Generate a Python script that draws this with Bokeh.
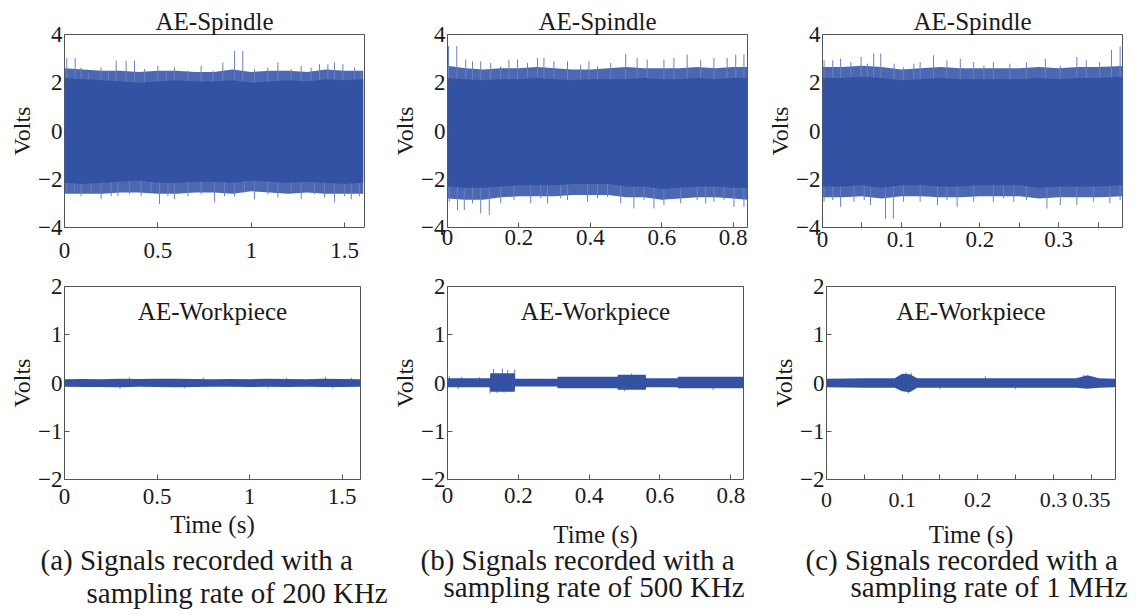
from bokeh.plotting import figure
from bokeh.layouts import row, column
from bokeh.models import Range1d, FixedTicker, Title, Label
from bokeh.embed import file_html
from bokeh.resources import INLINE

FONT = "Liberation Serif"
TXT = "#1a1a1a"
BLUE = "#3452a4"
FRINGE = "#4d68b2"
SPK = "#6680c2"
BOX = "#555555"

# ---------------- Panel (a) top: AE-Spindle, 200 kHz ----------------
a1_env_t = [0, 0.1, 0.2, 0.3, 0.4, 0.5, 0.6, 0.7, 0.8, 0.9, 1.0, 1.1, 1.2, 1.3, 1.4, 1.5, 1.6]
a1_env_hi = [2.2, 2.15, 2.1, 2.05, 2.0, 2.05, 2.1, 2.05, 2.05, 2.1, 2.0, 2.05, 2.1, 2.05, 2.15, 2.1, 2.15]
a1_env_lo = [-2.15, -2.2, -2.15, -2.1, -2.05, -2.15, -2.15, -2.1, -2.1, -2.15, -2.05, -2.1, -2.15, -2.1, -2.15, -2.2, -2.15]
a1_fr_hi = [2.6, 2.55, 2.5, 2.5, 2.45, 2.5, 2.5, 2.45, 2.45, 2.55, 2.45, 2.5, 2.5, 2.45, 2.55, 2.5, 2.5]
a1_fr_lo = [-2.6, -2.6, -2.6, -2.55, -2.55, -2.6, -2.6, -2.55, -2.55, -2.6, -2.5, -2.55, -2.6, -2.55, -2.6, -2.6, -2.6]
a1_up_t = [0.012, 0.057, 0.089, 0.129, 0.196, 0.236, 0.277, 0.330, 0.375, 0.429, 0.5, 0.545, 0.589, 0.661,
           0.732, 0.795, 0.848, 0.911, 0.955, 1.018, 1.089, 1.143, 1.214, 1.268, 1.321, 1.366, 1.411, 1.446,
           1.491, 1.554, 1.589]
a1_up_v = [3.02, 3.02, 2.63, 2.43, 2.63, 2.50, 2.91, 2.91, 2.91, 2.57, 2.70, 2.50, 2.63, 2.50,
           2.70, 2.50, 2.84, 3.32, 3.32, 2.57, 2.63, 2.84, 2.57, 2.70, 2.63, 2.77, 2.77, 2.84,
           2.77, 2.63, 2.50]
a1_dn_t = [0.012, 0.054, 0.089, 0.143, 0.196, 0.25, 0.286, 0.348, 0.411, 0.464, 0.509, 0.554, 0.589, 0.661,
           0.732, 0.804, 0.857, 0.911, 0.964, 1.018, 1.089, 1.143, 1.214, 1.268, 1.339, 1.393, 1.446, 1.5,
           1.536, 1.580]
a1_dn_v = [-2.55, -2.48, -2.70, -2.55, -2.83, -2.70, -2.70, -2.62, -2.70, -2.55, -3.03, -2.70, -2.83, -2.70,
           -2.62, -2.96, -2.70, -2.70, -2.55, -2.83, -2.62, -2.76, -2.55, -2.83, -2.62, -2.76, -2.96, -2.70,
           -2.83, -2.70]

# ---------------- Panel (a) bottom: AE-Workpiece ----------------
a2_env_t = [0, 0.1, 0.2, 0.3, 0.4, 0.5, 0.6, 0.7, 0.8, 0.9, 1.0, 1.1, 1.2, 1.3, 1.4, 1.5, 1.6]
a2_env_hi = [0.08, 0.085, 0.08, 0.09, 0.085, 0.09, 0.09, 0.085, 0.08, 0.085, 0.08, 0.09, 0.085, 0.08, 0.09, 0.085, 0.08]
a2_env_lo = [-0.08, -0.085, -0.085, -0.09, -0.08, -0.085, -0.09, -0.085, -0.08, -0.08, -0.085, -0.08, -0.085, -0.08, -0.085, -0.085, -0.08]
a2_up_t = [0.35, 0.75, 1.2, 1.41, 1.55]
a2_up_v = [0.12, 0.11, 0.11, 0.135, 0.11]
a2_dn_t = [0.3, 0.65, 1.1, 1.45]
a2_dn_v = [-0.12, -0.11, -0.11, -0.11]

# ---------------- Panel (b) top: AE-Spindle, 500 kHz ----------------
b1_env_t = [0, 0.05, 0.1, 0.15, 0.2, 0.25, 0.3, 0.35, 0.4, 0.45, 0.5, 0.55, 0.6, 0.65, 0.7, 0.75, 0.8, 0.84]
b1_env_hi = [2.2, 2.15, 2.1, 2.15, 2.15, 2.2, 2.15, 2.1, 2.15, 2.15, 2.15, 2.2, 2.15, 2.15, 2.2, 2.15, 2.2, 2.2]
b1_env_lo = [-2.3, -2.35, -2.35, -2.3, -2.25, -2.25, -2.25, -2.2, -2.2, -2.2, -2.3, -2.3, -2.4, -2.35, -2.3, -2.3, -2.35, -2.35]
b1_fr_hi = [2.7, 2.6, 2.55, 2.6, 2.6, 2.65, 2.6, 2.55, 2.55, 2.6, 2.65, 2.6, 2.6, 2.6, 2.65, 2.6, 2.65, 2.65]
b1_fr_lo = [-2.8, -2.85, -2.85, -2.75, -2.7, -2.7, -2.7, -2.65, -2.65, -2.65, -2.75, -2.75, -2.85, -2.8, -2.75, -2.75, -2.8, -2.85]
b1_up_t = [0.003, 0.026, 0.051, 0.070, 0.093, 0.121, 0.149, 0.172, 0.196, 0.224, 0.252, 0.270, 0.298, 0.336,
           0.373, 0.396, 0.420, 0.457, 0.499, 0.531, 0.559, 0.606, 0.634, 0.671, 0.709, 0.746, 0.783, 0.807, 0.830]
b1_up_v = [3.52, 3.52, 2.96, 2.89, 2.89, 2.82, 2.68, 2.96, 2.96, 2.82, 3.03, 3.03, 2.89, 2.89,
           2.75, 2.89, 2.68, 2.82, 3.20, 3.03, 2.96, 2.96, 3.03, 3.17, 2.96, 3.03, 3.03, 3.17, 3.17]
b1_dn_t = [0.005, 0.028, 0.047, 0.070, 0.093, 0.117, 0.149, 0.186, 0.233, 0.261, 0.280, 0.317, 0.336, 0.392,
           0.420, 0.448, 0.485, 0.522, 0.550, 0.578, 0.606, 0.653, 0.699, 0.723, 0.746, 0.774, 0.802, 0.830]
b1_dn_v = [-2.93, -3.28, -3.28, -3.0, -3.42, -3.49, -3.0, -2.86, -3.0, -2.79, -3.0, -2.79, -2.86, -2.93,
           -2.79, -2.73, -3.0, -3.21, -2.86, -3.21, -3.07, -3.0, -2.86, -3.0, -2.93, -2.86, -3.14, -3.14]

# ---------------- Panel (b) bottom: AE-Workpiece ----------------
b2_env_t = [0, 0.05, 0.1, 0.12, 0.121, 0.19, 0.191, 0.25, 0.31, 0.311, 0.40, 0.48, 0.481, 0.56, 0.561, 0.65, 0.651, 0.75, 0.836]
b2_env_hi = [0.1, 0.1, 0.1, 0.1, 0.2, 0.2, 0.09, 0.09, 0.09, 0.13, 0.13, 0.13, 0.17, 0.17, 0.1, 0.1, 0.13, 0.13, 0.13]
b2_env_lo = [-0.09, -0.09, -0.09, -0.09, -0.18, -0.18, -0.075, -0.075, -0.075, -0.11, -0.11, -0.11, -0.14, -0.14, -0.09, -0.09, -0.11, -0.11, -0.11]
b2_up_t = [0.005, 0.04, 0.09, 0.13, 0.155, 0.17, 0.19, 0.52]
b2_up_v = [0.14, 0.13, 0.12, 0.29, 0.30, 0.27, 0.28, 0.2]
b2_dn_t = [0.03, 0.12, 0.14, 0.16, 0.5, 0.75]
b2_dn_v = [-0.13, -0.22, -0.21, -0.2, -0.17, -0.15]

# ---------------- Panel (c) top: AE-Spindle, 1 MHz ----------------
c1_env_t = [0, 0.025, 0.05, 0.075, 0.1, 0.125, 0.15, 0.175, 0.2, 0.225, 0.25, 0.275, 0.3, 0.325, 0.35, 0.382]
c1_env_hi = [2.2, 2.2, 2.25, 2.2, 2.1, 2.15, 2.2, 2.15, 2.15, 2.15, 2.15, 2.2, 2.15, 2.2, 2.2, 2.25]
c1_env_lo = [-2.3, -2.3, -2.25, -2.35, -2.25, -2.25, -2.3, -2.3, -2.25, -2.25, -2.25, -2.35, -2.3, -2.3, -2.3, -2.25]
c1_fr_hi = [2.65, 2.65, 2.7, 2.65, 2.55, 2.6, 2.65, 2.6, 2.6, 2.6, 2.6, 2.65, 2.6, 2.65, 2.65, 2.7]
c1_fr_lo = [-2.75, -2.75, -2.7, -2.8, -2.7, -2.7, -2.75, -2.75, -2.7, -2.7, -2.7, -2.8, -2.75, -2.75, -2.75, -2.7]
c1_up_t = [0.002, 0.013, 0.023, 0.036, 0.049, 0.057, 0.065, 0.074, 0.091, 0.103, 0.116, 0.124, 0.141, 0.158,
           0.175, 0.192, 0.205, 0.217, 0.238, 0.259, 0.283, 0.302, 0.323, 0.335, 0.352, 0.367, 0.378]
c1_up_v = [2.93, 2.93, 3.0, 2.86, 3.07, 2.79, 3.21, 3.21, 2.79, 2.64, 2.79, 2.86, 3.14, 2.93,
           3.0, 2.86, 2.71, 2.86, 2.79, 2.86, 3.0, 2.71, 3.07, 2.93, 2.86, 3.36, 3.5]
c1_dn_t = [0.002, 0.013, 0.023, 0.040, 0.053, 0.061, 0.080, 0.090, 0.103, 0.124, 0.146, 0.158, 0.171, 0.192,
           0.217, 0.230, 0.243, 0.259, 0.285, 0.302, 0.323, 0.344, 0.365, 0.378]
c1_dn_v = [-2.93, -2.86, -3.14, -2.93, -2.86, -3.07, -3.64, -3.64, -2.93, -2.93, -3.07, -2.86, -3.14, -2.93,
           -2.93, -2.79, -2.93, -2.86, -3.21, -3.07, -3.07, -2.93, -3.0, -2.86]

# ---------------- Panel (c) bottom: AE-Workpiece ----------------
c2_env_t = [0, 0.05, 0.09, 0.1, 0.11, 0.12, 0.2, 0.3, 0.33, 0.345, 0.36, 0.382]
c2_env_hi = [0.09, 0.1, 0.1, 0.19, 0.18, 0.1, 0.1, 0.1, 0.1, 0.16, 0.1, 0.09]
c2_env_lo = [-0.09, -0.1, -0.1, -0.17, -0.19, -0.1, -0.1, -0.1, -0.1, -0.12, -0.1, -0.09]
c2_up_t = [0.105, 0.112, 0.21, 0.34]
c2_up_v = [0.22, 0.21, 0.14, 0.17]
c2_dn_t = [0.108, 0.15, 0.25]
c2_dn_v = [-0.22, -0.13, -0.13]

# ---------------- Axis ticks and texts ----------------
a_xticks = [0, 0.5, 1, 1.5]
b_xticks = [0, 0.2, 0.4, 0.6, 0.8]
c_xticks = [0, 0.05, 0.1, 0.15, 0.2, 0.25, 0.3, 0.35]
c1_xlabels = {0.05: "", 0.15: "", 0.25: "", 0.35: ""}
c2_xlabels = {0.05: "", 0.15: "", 0.25: ""}
top_yticks = [-4, -2, 0, 2, 4]
bot_yticks = [-2, -1, 0, 1, 2]
captions = [("(a) Signals recorded with a", "sampling rate of 200 KHz"),
            ("(b) Signals recorded with a", "sampling rate of 500 KHz"),
            ("(c) Signals recorded with a", "sampling rate of 1 MHz")]


def style_axis(ax, ticks, overrides=None, size="23px"):
    ax.ticker = FixedTicker(ticks=ticks, minor_ticks=[])
    ax.axis_line_color = None
    ax.major_tick_in = 5
    ax.major_tick_out = 0
    ax.major_tick_line_color = BOX
    ax.minor_tick_line_color = None
    ax.major_label_text_font = FONT
    ax.major_label_text_font_size = size
    ax.major_label_text_color = TXT
    if overrides:
        ax.major_label_overrides = overrides


def make_panel(w, h, left, right, top, bottom, xmax, ylim, xticks, yticks,
               env_t, env_hi, env_lo, up_t, up_v, dn_t, dn_v, fr_hi=None, fr_lo=None,
               xover=None, xsize="23px", title=None, inner=None, caption=None, cap_off=(0, 0),
               xstand=6, lstand=4, cstand=(2, 2)):
    p = figure(width=w, height=h, min_border_left=left, min_border_right=right,
               min_border_top=top, min_border_bottom=bottom,
               x_range=Range1d(0, xmax), y_range=Range1d(*ylim),
               output_backend="svg", toolbar_location=None, tools="")
    p.xgrid.visible = False
    p.ygrid.visible = False
    p.outline_line_color = BOX
    p.outline_line_width = 1
    p.background_fill_color = "white"
    p.border_fill_color = "white"

    if fr_hi is not None:
        p.varea(x=env_t, y1=fr_lo, y2=fr_hi, fill_color=FRINGE)
    p.segment(x0=up_t, y0=[0] * len(up_t), x1=up_t, y1=up_v, line_color=SPK, line_width=1)
    p.segment(x0=dn_t, y0=[0] * len(dn_t), x1=dn_t, y1=dn_v, line_color=SPK, line_width=1)
    p.varea(x=env_t, y1=env_lo, y2=env_hi, fill_color=BLUE)

    xa = p.xaxis[0]
    ya = p.yaxis[0]
    style_axis(xa, xticks, xover, xsize)
    xa.major_label_standoff = xstand
    style_axis(ya, yticks)
    ya.major_label_standoff = 2
    ya.axis_label = "Volts"
    ya.axis_label_text_font = FONT
    ya.axis_label_text_font_size = "24px"
    ya.axis_label_text_font_style = "normal"
    ya.axis_label_text_color = TXT
    ya.axis_label_standoff = 0

    p.title.standoff = 0
    if title:
        p.title.text = title
        p.title.align = "center"
        p.title.text_font = FONT
        p.title.text_font_size = "25px"
        p.title.text_font_style = "normal"
        p.title.text_color = TXT
    if inner:
        p.add_layout(Label(x=xmax / 2, y=1.48, text=inner, text_align="center",
                           text_baseline="middle", text_font=FONT, text_font_size="25px",
                           text_color=TXT))
    if caption:
        xa.axis_label = "Time (s)"
        xa.axis_label_text_font = FONT
        xa.axis_label_text_font_size = "25px"
        xa.axis_label_text_font_style = "normal"
        xa.axis_label_text_color = TXT
        xa.axis_label_standoff = lstand
        for txt, off, st in zip(caption, cap_off, cstand):
            p.add_layout(Title(text=txt, align="left", offset=off, standoff=st,
                               text_font=FONT, text_font_size="29px",
                               text_font_style="normal", text_color=TXT), "below")
    return p


# layout: top row frames y 34..227, bottom row frames y 286..479
H1 = 274
H2 = 616 - H1
T1, F1 = 34, 193
T2, F2 = 12, 193

pa1 = make_panel(389, H1, 64, 25, T1, H1 - T1 - F1, 1.607, (-4, 4), a_xticks, top_yticks,
                 a1_env_t, a1_env_hi, a1_env_lo, a1_up_t, a1_up_v, a1_dn_t, a1_dn_v,
                 fr_hi=a1_fr_hi, fr_lo=a1_fr_lo, title="AE-Spindle", xstand=15)
pb1 = make_panel(375, H1, 58, 17, T1, H1 - T1 - F1, 0.84, (-4, 4), b_xticks, top_yticks,
                 b1_env_t, b1_env_hi, b1_env_lo, b1_up_t, b1_up_v, b1_dn_t, b1_dn_v,
                 fr_hi=b1_fr_hi, fr_lo=b1_fr_lo, title="AE-Spindle", xstand=2)
pc1 = make_panel(376, H1, 58, 18, T1, H1 - T1 - F1, 0.381, (-4, 4), c_xticks, top_yticks,
                 c1_env_t, c1_env_hi, c1_env_lo, c1_up_t, c1_up_v, c1_dn_t, c1_dn_v,
                 fr_hi=c1_fr_hi, fr_lo=c1_fr_lo, xover=c1_xlabels, title="AE-Spindle", xstand=4)

pa2 = make_panel(389, H2, 64, 29, T2, H2 - T2 - F2, 1.6, (-2, 2), a_xticks, bot_yticks,
                 a2_env_t, a2_env_hi, a2_env_lo, a2_up_t, a2_up_v, a2_dn_t, a2_dn_v,
                 inner="AE-Workpiece", caption=captions[0], cap_off=(-24, 22),
                 xstand=9, lstand=4, cstand=(3, -6))
pb2 = make_panel(375, H2, 58, 21, T2, H2 - T2 - F2, 0.836, (-2, 2), b_xticks, bot_yticks,
                 b2_env_t, b2_env_hi, b2_env_lo, b2_up_t, b2_up_v, b2_dn_t, b2_dn_v,
                 inner="AE-Workpiece", caption=captions[1], cap_off=(-27, -4),
                 xstand=8, lstand=15, cstand=(-17, 3))
pc2 = make_panel(376, H2, 62, 25, T2, H2 - T2 - F2, 0.382, (-2, 2), c_xticks, bot_yticks,
                 c2_env_t, c2_env_hi, c2_env_lo, c2_up_t, c2_up_v, c2_dn_t, c2_dn_v,
                 xover=c2_xlabels, xsize="22px", inner="AE-Workpiece", caption=captions[2],
                 cap_off=(-21, 24), xstand=13, lstand=11, cstand=(-17, 2))

layout = column(row(pa1, pb1, pc1), row(pa2, pb2, pc2))
open("out.html", "w").write(file_html(layout, INLINE))
